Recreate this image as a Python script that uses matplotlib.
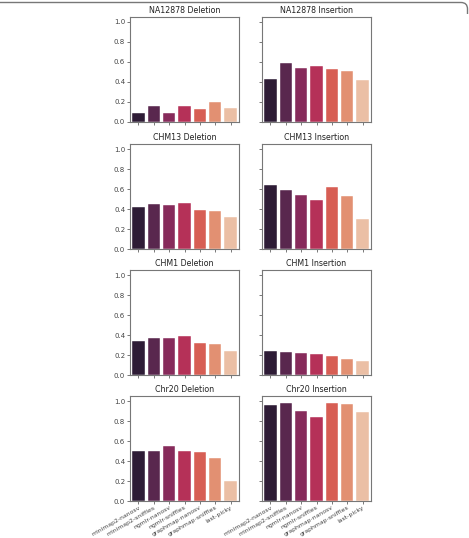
import matplotlib
matplotlib.use("Agg")
import matplotlib.pyplot as plt
import seaborn as sns
from matplotlib.path import Path
from matplotlib.patches import PathPatch

tools = ["minimap2-nanosv", "minimap2-sniffles", "ngmlr-nanosv", "ngmlr-sniffles",
         "graphmap-nanosv", "graphmap-sniffles", "last-picky"]

na12878_del = [0.092, 0.164, 0.092, 0.160, 0.130, 0.197, 0.138]
na12878_ins = [0.433, 0.590, 0.544, 0.564, 0.534, 0.515, 0.423]
chm13_del = [0.425, 0.451, 0.438, 0.458, 0.395, 0.379, 0.324]
chm13_ins = [0.640, 0.595, 0.539, 0.493, 0.621, 0.526, 0.300]
chm1_del = [0.337, 0.366, 0.370, 0.386, 0.320, 0.314, 0.244]
chm1_ins = [0.238, 0.228, 0.221, 0.208, 0.191, 0.162, 0.142]
chr20_del = [0.498, 0.498, 0.554, 0.498, 0.495, 0.432, 0.198]
chr20_ins = [0.957, 0.977, 0.904, 0.842, 0.983, 0.974, 0.891]

panels = [
    ("NA12878 Deletion", na12878_del), ("NA12878 Insertion", na12878_ins),
    ("CHM13 Deletion", chm13_del), ("CHM13 Insertion", chm13_ins),
    ("CHM1 Deletion", chm1_del), ("CHM1 Insertion", chm1_ins),
    ("Chr20 Deletion", chr20_del), ("Chr20 Insertion", chr20_ins),
]

W, H = 469, 538
fig = plt.figure(figsize=(W / 100, H / 100), dpi=100)

# outer frame of the journal figure: only the top edge and right corner show
fx = lambda px: px / W
fy = lambda py: 1 - py / H
edge = Path([(fx(-5), fy(2.5)), (fx(461), fy(2.5)), (fx(467.5), fy(2.5)), (fx(467.5), fy(9)),
             (fx(467.5), fy(14))],
            [Path.MOVETO, Path.LINETO, Path.CURVE3, Path.CURVE3, Path.LINETO])
fig.patches.append(PathPatch(edge, transform=fig.transFigure, fill=False,
                             edgecolor="#777777", linewidth=1.0))

lefts = [130, 262]
tops = [17, 144, 270, 396]
aw, ah = 109, 105

palette = sns.color_palette("rocket", len(tools))

for i, (title, vals) in enumerate(panels):
    r, c = divmod(i, 2)
    ax = fig.add_axes([lefts[c] / W, 1 - (tops[r] + ah) / H, aw / W, ah / H])
    sns.barplot(x=tools, y=vals, hue=tools, palette=palette, legend=False, ax=ax,
                saturation=0.75, edgecolor="white", linewidth=0.3, width=0.8)
    ax.set_xlim(-0.55, 6.55)
    ax.set_ylim(0, 1.05)
    ax.set_yticks([0, 0.2, 0.4, 0.6, 0.8, 1.0])
    ax.set_title(title, fontsize=5.7, color="#222222", pad=3)
    for sp in ax.spines.values():
        sp.set_color("#777777")
        sp.set_linewidth(0.8)
    ax.tick_params(length=2, width=0.5, colors="#444444", labelsize=5.0, pad=1.5)
    ax.set_xticks(range(len(tools)))
    if c == 1:
        ax.set_yticklabels([])
    else:
        ax.set_yticklabels(["0.0", "0.2", "0.4", "0.6", "0.8", "1.0"])
    if r == 3:
        ax.set_xticklabels(tools, rotation=30, ha="right", rotation_mode="anchor", fontsize=4.4)
        ax.tick_params(axis="x", pad=1)
    else:
        ax.set_xticklabels([])
    ax.set_xlabel("")
    ax.set_ylabel("")

fig.savefig("out.png", dpi=100)
